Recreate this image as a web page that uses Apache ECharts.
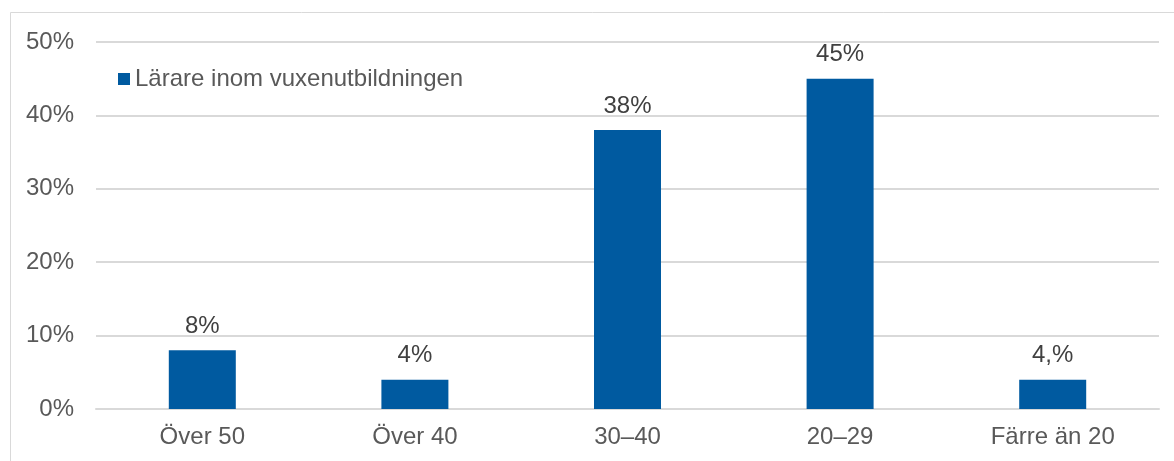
<!DOCTYPE html>
<html>
<head>
<meta charset="utf-8">
<script src="https://cdn.jsdelivr.net/npm/echarts@6/dist/echarts.min.js"></script>
<style>
html,body{margin:0;padding:0;background:#fff;}
#chart{width:1174px;height:461px;}
</style>
</head>
<body>
<div id="chart"></div>
<script>
const categories = ['Över 50', 'Över 40', '30–40', '20–29', 'Färre än 20'];
const values = [8, 4, 38, 45, 4];
const valueLabels = ['8%', '4%', '38%', '45%', '4,%'];
const seriesName = 'Lärare inom vuxenutbildningen';
const yTicks = [0, 10, 20, 30, 40, 50];

const chart = echarts.init(document.getElementById('chart'), null, {renderer: 'canvas'});
const font = '"Liberation Sans", Arial, sans-serif';
chart.setOption({
  animation: false,
  backgroundColor: '#ffffff',
  graphic: [{
    type: 'rect',
    shape: {x: 10.5, y: 12.5, width: 1180, height: 470},
    style: {fill: 'none', stroke: '#D9D9D9', lineWidth: 1},
    silent: true, z: -1
  }],
  grid: {left: 96, right: 15, top: 42, bottom: 52, containLabel: false},
  legend: {
    data: [seriesName],
    left: 113, top: 62,
    icon: 'rect', itemWidth: 12, itemHeight: 12, itemGap: 5,
    textStyle: {fontFamily: font, fontSize: 24, color: '#595959'}
  },
  xAxis: {
    type: 'category',
    data: categories,
    axisLine: {show: true, lineStyle: {color: '#D9D9D9', width: 2}},
    axisTick: {show: false},
    axisLabel: {fontFamily: font, fontSize: 24, color: '#595959', margin: 16}
  },
  yAxis: {
    type: 'value',
    min: yTicks[0], max: yTicks[yTicks.length - 1], interval: 10,
    axisLine: {show: false},
    axisTick: {show: false},
    splitLine: {lineStyle: {color: '#D9D9D9', width: 2}},
    axisLabel: {fontFamily: font, fontSize: 24, color: '#595959', margin: 22, formatter: v => v + '%'}
  },
  series: [{
    name: seriesName,
    type: 'bar',
    data: values,
    barWidth: 67,
    itemStyle: {color: '#005AA0'},
    label: {
      show: true, position: 'top', distance: 12,
      fontFamily: font, fontSize: 24, color: '#404040',
      formatter: p => valueLabels[p.dataIndex]
    }
  }]
});
</script>
</body>
</html>
